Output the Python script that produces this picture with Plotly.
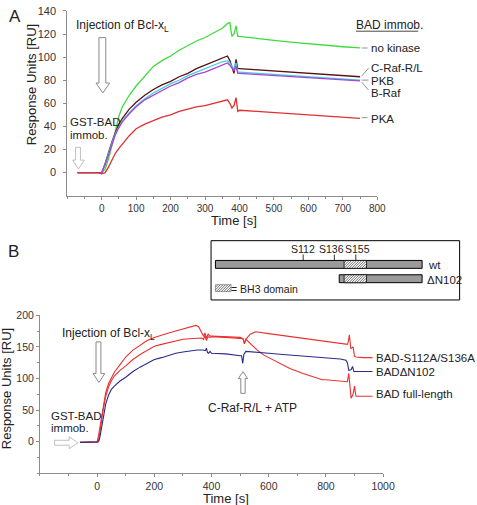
import plotly.graph_objects as go

W, H = 477, 505

# ---------------- Panel A data ----------------
tA = [-70, -40, -10, 0, 10, 20, 30, 40, 50, 60, 80, 100, 125, 150, 175, 200, 225, 250, 275, 300,
      325, 350, 365, 372, 378, 384, 390, 395, 400, 450, 500, 550, 600, 650, 700, 750]
no_kinase = [0, 0, 0, 0, 3, 12, 24, 38, 49, 57, 67, 75, 84, 92, 97, 101, 106, 110, 114, 117,
             121, 125, 129, 130, 118, 120, 127, 118, 118, 116, 114.5, 113, 111.5, 110, 109, 108]
craf_rl = [0, 0, 0, 0, 8, 18, 27, 35, 42, 47, 55, 61, 67, 72, 76, 79, 83, 86, 90, 93,
           96, 99, 101, 97, 92, 86, 98, 90, 90, 89, 88, 87, 86, 85, 84, 83]
pkb = [0, 0, 0, 0, 7, 17, 26, 34, 40, 45, 52, 58, 64, 69, 73, 77, 80, 84, 87, 90,
       93, 96, 97, 95, 92, 90, 95, 87, 87, 86, 85, 84, 83, 82, 81, 80]
braf = [0, 0, 0, 0, 7, 16, 25, 33, 39, 44, 51, 57, 63, 67, 71, 75, 78, 82, 85, 87,
        90, 93, 95, 93, 90, 88, 92, 86, 86, 85, 84, 83, 82, 81, 80.5, 79.5]
pka = [0, 0, 0, -1, 0, 5, 11, 17, 21, 25, 32, 38, 42, 45, 48, 50, 53, 55, 57, 58,
       60, 62, 63, 60, 56, 58, 65, 53, 54, 53, 52, 50.5, 49.5, 48.5, 47.5, 47]
seriesA = [("no kinase", no_kinase, "#3ddc3d"), ("C-Raf-R/L", craf_rl, "#5a1010"),
           ("PKB", pkb, "#3fd0e0"), ("B-Raf", braf, "#a844d8"), ("PKA", pka, "#e03030")]
ticksA_x = [0, 100, 200, 300, 400, 500, 600, 700, 800]
ticksA_y = [0, 20, 40, 60, 80, 100, 120, 140]

# ---------------- Panel B data ----------------
tB1 = [-60, -30, -5, 0, 5, 10, 15, 20, 25, 30, 40, 50, 60, 80, 100, 125, 150, 175, 200, 225, 250,
       275, 300, 325, 345, 355, 365, 372, 377, 382, 388, 395, 400, 450, 500, 510, 515, 520, 540,
       560, 583, 620, 674, 720, 787, 800, 850, 875, 880, 888, 895, 900, 905, 930, 963]
full_length = [-1, -1, -1, 0, 10, 25, 40, 55, 68, 78, 92, 102, 110, 122, 134, 145, 153, 160, 165, 169, 172,
               175, 178, 181, 184, 182, 174, 167, 172, 164, 170, 167, 167, 166, 165, 163, 156, 162, 153,
               145, 137, 128, 116, 108, 98, 98, 96, 95, 108, 69, 75, 88, 72, 72, 72]
tB2 = [-60, -30, -5, 0, 5, 10, 15, 20, 25, 30, 40, 50, 60, 80, 100, 125, 150, 175, 200, 225, 250,
       275, 300, 325, 350, 365, 372, 377, 382, 388, 395, 400, 450, 500, 510, 515, 520, 535, 554,
       600, 700, 800, 875, 878, 882, 887, 895, 900, 905, 930, 963]
s112a_s136a = [-1, -1, -1, -1, 2, 15, 32, 48, 61, 72, 87, 97, 104, 113, 120, 130, 138, 144, 151, 154, 157,
               160, 162, 163, 164, 164, 162, 168, 160, 166, 165, 166, 165, 164, 163, 155, 162, 170, 174,
               171, 165, 159, 154, 158, 169, 147, 150, 135, 134, 133, 133]
tB3 = [-60, -30, -5, 0, 5, 10, 15, 20, 25, 30, 40, 45, 50, 60, 80, 100, 125, 150, 175, 200, 225, 250,
       275, 300, 325, 350, 370, 378, 382, 386, 390, 395, 400, 450, 500, 505, 509, 513, 520, 560,
       600, 650, 700, 750, 800, 850, 870, 875, 880, 888, 893, 898, 930, 963]
delta_n102 = [-1, -1, -1, -1, 0, 8, 22, 36, 49, 60, 74, 80, 83, 88, 96, 102, 111, 118, 124, 130, 133, 137,
              140, 142, 144, 145, 145, 144, 148, 141, 140, 143, 140, 139, 136, 136, 124, 138, 143, 142,
              140, 138, 136, 134, 132, 131, 129, 125, 113, 114, 119, 111, 111, 111]
seriesB = [("BAD full-length", tB1, full_length, "#e8312f"),
           ("BAD-S112A/S136A", tB2, s112a_s136a, "#e8312f"),
           ("BAD\u0394N102", tB3, delta_n102, "#2b2b8a")]
ticksB_x = [0, 200, 400, 600, 800, 1000]
ticksB_y = [0, 50, 100, 150, 200]

FONT = "Arial, Liberation Sans, Helvetica, sans-serif"

fig = go.Figure()
for name, ys, col in seriesA:
    fig.add_trace(go.Scatter(x=tA, y=ys, mode="lines", name=name, xaxis="x", yaxis="y",
                             line=dict(color=col, width=1.3), showlegend=False))
for name, xs, ys, col in seriesB:
    fig.add_trace(go.Scatter(x=xs, y=ys, mode="lines", name=name, xaxis="x2", yaxis="y2",
                             line=dict(color=col, width=1.1), showlegend=False))


def P(x, y):
    return x / W, 1 - y / H


def poly(pts):
    s = ""
    for i, (x, y) in enumerate(pts):
        px, py = P(x, y)
        s += ("M" if i == 0 else "L") + f"{px:.5f},{py:.5f} "
    return s + "Z"


def seg_path(segs):
    s = ""
    for (x0, y0), (x1, y1) in segs:
        a, b = P(x0, y0)
        c, d = P(x1, y1)
        s += f"M{a:.5f},{b:.5f} L{c:.5f},{d:.5f} "
    return s


def hatch(x0, x1, y0, y1, step=2.6):
    segs = []
    c = x0 + y0
    while c < x1 + y1:
        xa = max(x0, c - y1)
        xb = min(x1, c - y0)
        if xa < xb:
            segs.append(((xa, c - xa), (xb, c - xb)))
        c += step
    return seg_path(segs)


shapes = []


def arrow_down(sx0, sx1, ty, hb, hx0, hx1, tip, col):
    tx = (hx0 + hx1) / 2
    shapes.append(dict(type="path", xref="paper", yref="paper",
                       path=poly([(sx0, ty), (sx1, ty), (sx1, hb), (hx1, hb), (tx, tip), (hx0, hb), (sx0, hb)]),
                       fillcolor="white", line=dict(color=col, width=1)))


def arrow_up(sx0, sx1, by, hb, hx0, hx1, tip, col):
    tx = (hx0 + hx1) / 2
    shapes.append(dict(type="path", xref="paper", yref="paper",
                       path=poly([(sx0, by), (sx1, by), (sx1, hb), (hx1, hb), (tx, tip), (hx0, hb), (sx0, hb)]),
                       fillcolor="white", line=dict(color=col, width=1)))


def arrow_right(sy0, sy1, lx, hb, hy0, hy1, tip, col):
    ty = (hy0 + hy1) / 2
    shapes.append(dict(type="path", xref="paper", yref="paper",
                       path=poly([(lx, sy0), (hb, sy0), (hb, hy0), (tip, ty), (hb, hy1), (hb, sy1), (lx, sy1)]),
                       fillcolor="white", line=dict(color=col, width=1)))


# Panel A arrows
arrow_down(101.5, 108.5, 32, 78, 98.5, 112.5, 88, "#8a8a8a")
arrow_down(77.5, 82.5, 143, 156, 74.5, 86.5, 165, "#c0c0c0")
# Panel B arrows
arrow_down(98.5, 103.5, 340, 372, 95.5, 107.5, 381, "#8a8a8a")
arrow_right(439.5, 444.5, 56, 71, 436, 448, 80, "#c0c0c0")
arrow_up(247, 251.5, 392, 377, 244.5, 254, 370, "#8a8a8a")

# leader lines panel A
lines_A = [((371, 42.5), (377, 42.5)), ((371, 71), (378, 63)), ((371, 75), (378, 75)),
           ((371, 77), (378, 85)), ((371, 113), (377, 113))]
shapes.append(dict(type="path", xref="paper", yref="paper", path=seg_path(lines_A),
                   line=dict(color="#777", width=0.8)))
# underline BAD immob.
shapes.append(dict(type="path", xref="paper", yref="paper", path=seg_path([((365, 25.5), (429, 25.5))]),
                   line=dict(color="#333", width=0.9)))


# Inset schematic
def rect(x0, y0, x1, y1, fill, lw=1, col="black"):
    a, b = P(x0, y0)
    c, d = P(x1, y1)
    shapes.append(dict(type="rect", xref="paper", yref="paper", x0=a, y0=d, x1=c, y1=b,
                       fillcolor=fill, line=dict(color=col, width=lw)))


rect(216.5, 237.5, 471.5, 297.5, "rgba(0,0,0,0)", 1)
rect(221, 257.5, 433, 265.5, "#9a9a9a")
rect(353, 257.5, 376, 265.5, "white", 0.8)
shapes.append(dict(type="path", xref="paper", yref="paper", path=hatch(353, 376, 257.5, 265.5),
                   line=dict(color="#333", width=0.7)))
rect(348, 272, 433, 280, "#9a9a9a")
rect(353, 272, 376, 280, "white", 0.8)
shapes.append(dict(type="path", xref="paper", yref="paper", path=hatch(353, 376, 272, 280),
                   line=dict(color="#333", width=0.7)))
rect(221, 282, 237, 289, "white", 0.6, "#666")
shapes.append(dict(type="path", xref="paper", yref="paper", path=hatch(221, 237, 282, 289),
                   line=dict(color="#333", width=0.7)))
shapes.append(dict(type="path", xref="paper", yref="paper",
                   path=seg_path([((311, 251.5), (311, 257.5)), ((343, 251.5), (343, 257.5)),
                                  ((365, 251.5), (365, 257.5))]),
                   line=dict(color="black", width=0.8)))

ann = []


def T(x, y, text, size=12, xa="left", ya="middle", col="#222", **kw):
    px, py = P(x, y)
    ann.append(dict(x=px, y=py, xref="paper", yref="paper", text=text, showarrow=False,
                    xanchor=xa, yanchor=ya, borderpad=0, borderwidth=0,
                    font=dict(family=FONT, size=size, color=col), **kw))


T(15, 11, "A", 17, "center")
T(14, 248, "B", 17, "center")
# Panel A texts
T(78, 20, "Injection of Bcl-x<sub>L</sub>", 12)
T(72, 117.5, "GST-BAD", 11.5)
T(72, 130.5, "immob.", 11.5)
T(365, 19, "BAD immob.", 12)
T(381, 43, "no kinase", 11.5)
T(381, 63, "C-Raf-R/L", 11.5)
T(381, 75.5, "PKB", 11.5)
T(381, 88, "B-Raf", 11.5)
T(381, 114, "PKA", 11.5)
T(32, 80, "Response Units [RU]", 13, "center", textangle=-90)
T(240, 217, "Time [s]", 13, "center")
# inset texts
T(310.5, 246, "S112", 10.5, "center")
T(340, 246, "S136", 10.5, "center")
T(366.5, 246, "S155", 10.5, "center")
T(439, 262, "wt", 11.5)
T(438, 277, "\u0394N102", 11.5)
T(237, 286, "= BH3 domain", 10.5)
# Panel B texts
T(64, 332, "Injection of Bcl-x<sub>L</sub>", 12)
T(52, 414.5, "GST-BAD", 11.5)
T(52, 427.5, "immob.", 11.5)
T(213, 407, "C-Raf-R/L + ATP", 12)
T(386, 356, "BAD-S112A/S136A", 11.5)
T(386, 370, "BAD\u0394N102", 11.5)
T(386, 393, "BAD full-length", 11.5)
T(7, 387, "Response Units [RU]", 13, "center", textangle=-90)
T(232, 498, "Time [s]", 13, "center")

axis_common = dict(showline=True, linecolor="#8c8c8c", linewidth=1, ticks="outside", ticklen=3,
                   tickcolor="#8c8c8c", showgrid=False, zeroline=False)
tf_small = dict(family=FONT, size=10, color="#333")
tf_big = dict(family=FONT, size=10.5, color="#333")

fig.update_layout(
    width=W, height=H, autosize=False, margin=dict(l=0, r=0, t=0, b=0),
    paper_bgcolor="white", plot_bgcolor="white", showlegend=False,
    xaxis=dict(domain=[69 / W, 387 / W], range=[-100, 800], anchor="y", tickvals=ticksA_x, tickfont=tf_small,
               minor=dict(dtick=50, ticks="outside", ticklen=2, tickcolor="#8c8c8c"), **axis_common),
    yaxis=dict(domain=[1 - 192 / H, 1 - 5 / H], range=[-20, 140], anchor="x", tickvals=ticksA_y,
               tickfont=dict(family=FONT, size=11, color="#333"), ticklabelstandoff=5, **axis_common),
    xaxis2=dict(domain=[41 / W, 393 / W], range=[-200, 1000], anchor="y2", tickvals=ticksB_x, tickfont=tf_big,
                minor=dict(dtick=100, ticks="outside", ticklen=2, tickcolor="#8c8c8c"), **axis_common),
    yaxis2=dict(domain=[1 - 473 / H, 1 - 313 / H], range=[-50, 200], anchor="x2", tickvals=ticksB_y,
                tickfont=tf_big,
                minor=dict(dtick=25, ticks="outside", ticklen=2, tickcolor="#8c8c8c"), **axis_common),
    shapes=shapes, annotations=ann,
)

fig.write_html("out.html", config={"displayModeBar": False},
               post_script="document.body.style.margin='0';document.body.style.padding='0';"
                           "document.documentElement.style.overflow='hidden';")
